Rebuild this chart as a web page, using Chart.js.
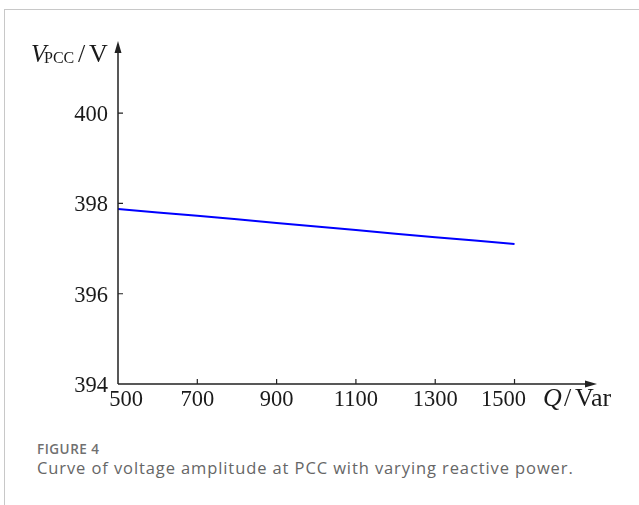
<!DOCTYPE html>
<html>
<head>
<meta charset="utf-8">
<script src="https://cdn.jsdelivr.net/npm/chart.js@4"></script>
<style>
  body { margin: 0; background: #fff; width: 639px; height: 505px; overflow: hidden; position: relative; }
  .card { position: absolute; left: 4px; top: 9px; right: 0; bottom: 0; border-top: 1px solid #c8c8c8; border-left: 1px solid #c8c8c8; }
  #wrap { position: absolute; left: 0; top: 0; width: 639px; height: 420px; }
  .fig { position: absolute; left: 37px; top: 440px; font-family: "Open Sans", sans-serif; font-weight: 600; font-size: 13.5px; letter-spacing: 0.5px; color: #707070; }
  .cap { position: absolute; left: 37px; top: 456px; font-family: "Open Sans", sans-serif; font-size: 16.5px; letter-spacing: 0.9px; color: #666; }
</style>
</head>
<body>
<div class="card"></div>
<div id="wrap"><canvas id="chart" width="639" height="420"></canvas></div>
<div class="fig">FIGURE 4</div>
<div class="cap">Curve of voltage amplitude at PCC with varying reactive power.</div>
<script>
// reactive power Q (Var) and PCC voltage (V)
const reactivePower = [500, 600, 700, 800, 900, 1000, 1100, 1200, 1300, 1400, 1500];
const voltagePcc = [397.88, 397.80, 397.73, 397.65, 397.57, 397.49, 397.41, 397.33, 397.25, 397.18, 397.10];
const xTicks = [500, 700, 900, 1100, 1300, 1500];
const yTicks = [394, 396, 398, 400];

const serif = '"Liberation Serif", "Times New Roman", serif';

// axes, ticks, arrows and labels drawn by hand (the figure uses arrow-style axes)
const axesPlugin = {
  id: "arrowAxes",
  afterDatasetsDraw(chart) {
    const ctx = chart.ctx;
    const xs = chart.scales.x;
    const ys = chart.scales.y;
    const x0 = xs.getPixelForValue(xs.min);
    const y0 = ys.getPixelForValue(ys.min);
    const xEnd = xs.getPixelForValue(xs.max);
    const yEnd = ys.getPixelForValue(ys.max);

    ctx.save();
    ctx.strokeStyle = "#222";
    ctx.fillStyle = "#222";
    ctx.lineWidth = 1.5;

    ctx.beginPath();
    ctx.moveTo(x0, y0);
    ctx.lineTo(xEnd - 6, y0);
    ctx.moveTo(x0, y0);
    ctx.lineTo(x0, yEnd + 6);
    ctx.stroke();

    // arrow heads
    ctx.beginPath();
    ctx.moveTo(xEnd, y0);
    ctx.lineTo(xEnd - 12, y0 - 3.5);
    ctx.lineTo(xEnd - 12, y0 + 3.5);
    ctx.closePath();
    ctx.fill();
    ctx.beginPath();
    ctx.moveTo(x0, yEnd);
    ctx.lineTo(x0 - 3.5, yEnd + 12);
    ctx.lineTo(x0 + 3.5, yEnd + 12);
    ctx.closePath();
    ctx.fill();

    // inward ticks
    ctx.lineWidth = 1.2;
    ctx.beginPath();
    xTicks.forEach((v) => {
      if (v === xs.min) return;
      const px = xs.getPixelForValue(v);
      ctx.moveTo(px, y0);
      ctx.lineTo(px, y0 - 5);
    });
    yTicks.forEach((v) => {
      if (v === ys.min) return;
      const py = ys.getPixelForValue(v);
      ctx.moveTo(x0, py);
      ctx.lineTo(x0 + 5, py);
    });
    ctx.stroke();

    // tick labels
    ctx.fillStyle = "#1a1a1a";
    ctx.font = "22.5px " + serif;
    ctx.textBaseline = "middle";
    ctx.textAlign = "right";
    yTicks.forEach((v) => {
      ctx.fillText(String(v), x0 - 10, ys.getPixelForValue(v) + 2);
    });
    ctx.textAlign = "center";
    xTicks.forEach((v, i) => {
      let shift = 0;
      if (i === 0) shift = 8;
      if (i === xTicks.length - 1) shift = -11;
      ctx.fillText(String(v), xs.getPixelForValue(v) + shift, y0 + 16);
    });

    // axis titles
    ctx.textBaseline = "alphabetic";
    ctx.textAlign = "left";
    const ty = 62;
    ctx.font = "italic 25px " + serif;
    ctx.fillText("V", 31, ty);
    ctx.font = "16px " + serif;
    ctx.fillText("PCC", 44, ty + 1);
    ctx.font = "26px " + serif;
    ctx.fillText("/", 78, ty);
    ctx.fillText("V", 89, ty);

    const qy = 406;
    ctx.font = "italic 26px " + serif;
    ctx.fillText("Q", 543, qy);
    ctx.font = "26px " + serif;
    ctx.fillText("/", 564, qy);
    ctx.fillText("Var", 575, qy);
    ctx.restore();
  },
};

new Chart(document.getElementById("chart"), {
  type: "line",
  data: {
    labels: reactivePower,
    datasets: [
      {
        data: reactivePower.map((q, i) => ({ x: q, y: voltagePcc[i] })),
        borderColor: "#0000ff",
        borderWidth: 2,
        pointRadius: 0,
        fill: false,
        tension: 0,
      },
    ],
  },
  options: {
    responsive: false,
    animation: false,
    layout: { padding: { left: 118, right: 42, top: 41, bottom: 36 } },
    scales: {
      x: { type: "linear", min: 500, max: 1708, display: false },
      y: { min: 394, max: 401.6, display: false },
    },
    plugins: { legend: { display: false }, tooltip: { enabled: false } },
  },
  plugins: [axesPlugin],
});
</script>
</body>
</html>
